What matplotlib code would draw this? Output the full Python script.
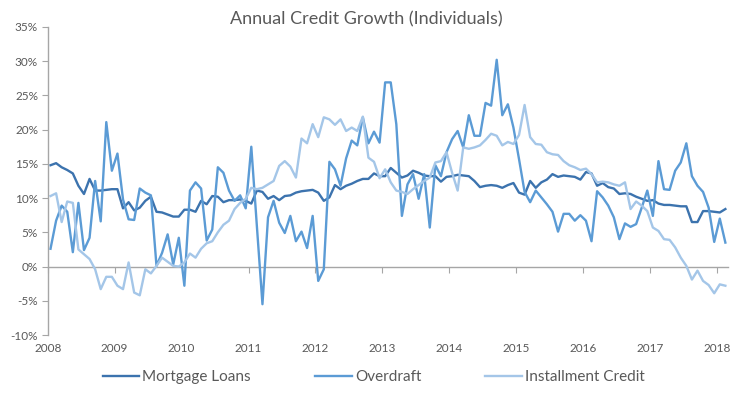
import numpy as np
import matplotlib
matplotlib.use("Agg")
import matplotlib.pyplot as plt
from matplotlib.ticker import FuncFormatter

# ── Data: monthly annual growth (%), Jan 2008 – Feb 2018 ─────
years = list(range(2008, 2019))

mortgage = [
    14.8, 15.1, 14.5, 14.1, 13.6, 11.8, 10.6, 12.8, 11.1, 11.1,
    11.2, 11.3, 11.3, 8.5, 9.4, 8.2, 8.6, 9.6, 10.2, 8.0,
    7.9, 7.6, 7.3, 7.3, 8.3, 8.3, 8.0, 9.6, 9.1, 10.3,
    10.2, 9.4, 9.7, 9.7, 9.8, 9.6, 9.2, 11.1, 10.9, 9.9,
    10.3, 9.7, 10.3, 10.4, 10.8, 11.0, 11.1, 11.2, 10.8, 9.6,
    10.1, 11.9, 11.3, 11.8, 12.1, 12.5, 12.8, 12.8, 13.6, 13.2,
    13.2, 14.4, 13.7, 13.0, 13.3, 14.0, 13.7, 13.3, 13.2, 13.2,
    12.4, 13.1, 13.2, 13.4, 13.3, 13.2, 12.5, 11.6, 11.8, 11.9,
    11.8, 11.5, 11.9, 12.2, 10.8, 10.5, 12.5, 11.5, 12.3, 12.7,
    13.5, 13.1, 13.3, 13.2, 13.1, 12.7, 13.8, 13.6, 11.8, 12.2,
    11.6, 11.4, 10.6, 10.7, 10.6, 10.2, 9.9, 9.6, 9.7, 9.2,
    9.0, 9.0, 8.9, 8.8, 8.8, 6.5, 6.5, 8.1, 8.1, 8.0,
    7.9, 8.4,
]

overdraft = [
    2.6, 6.7, 8.9, 8.0, 2.1, 9.3, 2.4, 4.2, 12.5, 6.6,
    21.1, 14.0, 16.5, 9.8, 6.9, 6.8, 11.4, 10.8, 10.4, 0.1,
    2.0, 4.7, 0.3, 4.2, -2.8, 11.1, 12.3, 11.4, 3.8, 5.4,
    14.5, 13.7, 11.1, 9.6, 10.4, 8.5, 17.5, 5.9, -5.5, 7.2,
    9.6, 6.4, 4.9, 7.4, 3.7, 5.1, 2.7, 7.4, -2.1, -0.4,
    15.3, 14.2, 11.8, 15.8, 18.4, 17.7, 21.8, 18.0, 19.7, 18.1,
    26.9, 26.9, 20.8, 7.4, 12.0, 13.5, 9.9, 13.5, 5.7, 14.8,
    13.2, 16.7, 18.6, 19.8, 17.4, 22.1, 19.1, 19.1, 23.9, 23.5,
    30.2, 22.1, 23.7, 20.3, 15.7, 10.9, 9.4, 11.1, 10.1, 9.1,
    8.0, 5.1, 7.7, 7.7, 6.7, 7.5, 6.7, 3.7, 11.0, 10.1,
    8.9, 7.2, 4.0, 6.3, 5.8, 6.2, 8.6, 11.1, 7.4, 15.4,
    11.3, 11.2, 14.0, 15.2, 18.0, 13.2, 11.8, 10.9, 8.6, 3.6,
    7.0, 3.5,
]

installment = [
    10.3, 10.7, 6.5, 9.5, 9.3, 2.5, 1.8, 1.1, -0.4, -3.3,
    -1.5, -1.5, -2.8, -3.3, 0.6, -3.8, -4.2, -0.4, -1.0, 0.1,
    1.3, 0.7, 0.1, 0.0, 0.6, 1.9, 1.3, 2.6, 3.4, 3.7,
    5.0, 6.1, 6.7, 8.4, 9.3, 9.9, 11.5, 11.3, 11.5, 12.0,
    12.5, 14.7, 15.4, 14.6, 13.0, 18.7, 18.0, 20.8, 18.9, 21.8,
    21.5, 20.7, 21.5, 19.8, 20.3, 19.8, 21.9, 15.9, 15.3, 12.9,
    14.2, 12.3, 11.1, 10.9, 10.6, 11.3, 11.9, 12.5, 13.0, 15.2,
    15.4, 16.7, 13.7, 11.1, 17.4, 17.2, 17.4, 17.7, 18.5, 19.4,
    19.1, 17.7, 18.2, 17.9, 19.2, 23.6, 18.9, 17.9, 17.8, 16.7,
    16.4, 16.3, 15.4, 14.8, 14.5, 14.1, 14.3, 13.5, 12.3, 12.4,
    12.3, 12.0, 11.8, 12.3, 8.4, 9.5, 8.9, 8.1, 5.7, 5.2,
    4.0, 3.9, 2.8, 1.3, 0.1, -1.9, -0.6, -2.1, -2.7, -3.9,
    -2.6, -2.8,
]

series = [
    ("Mortgage Loans", mortgage, "#3C73AE"),
    ("Overdraft", overdraft, "#5B9BD5"),
    ("Installment Credit", installment, "#A4C6E8"),
]

TEXT = "#595959"
AXIS = "#A6A6A6"
plt.rcParams["font.family"] = ["Lato", "DejaVu Sans"]

# ── Plot ──────────────────────────────────────────────────────
n = len(mortgage)
x = np.arange(n) + 0.5          # category centres, one per month

fig = plt.figure(figsize=(7.4, 3.96), dpi=100)
ax = fig.add_axes([0.0645, 0.154, 0.9195, 0.778])

for name, vals, col in series:
    ax.plot(x, vals, color=col, lw=1.7, label=name, solid_joinstyle="round")

ax.set_xlim(0, n)
ax.set_ylim(-10, 35)
ax.set_yticks(np.arange(-10, 36, 5))
ax.yaxis.set_major_formatter(FuncFormatter(lambda v, p: f"{v:.0f}%"))
ax.tick_params(axis="y", direction="out", length=4, color=AXIS,
               labelcolor=TEXT, labelsize=8.5, pad=3)

# year labels at the bottom of the plot area
ax.set_xticks([12 * k for k in range(len(years))])
ax.set_xticklabels([str(y) for y in years])
ax.tick_params(axis="x", length=0, labelcolor=TEXT, labelsize=8.5, pad=6)

for s in ["top", "right", "bottom"]:
    ax.spines[s].set_visible(False)
ax.spines["left"].set_color(AXIS)
ax.spines["left"].set_linewidth(1.0)

# horizontal axis line crossing at 0% with year tick marks
sec = ax.secondary_xaxis(location=10 / 45)
sec.set_xticks([12 * k for k in range(len(years))])
sec.tick_params(axis="x", direction="out", length=4, color=AXIS, labelbottom=False)
sec.spines["bottom"].set_color(AXIS)
sec.spines["bottom"].set_linewidth(1.0)

fig.suptitle("Annual Credit Growth (Individuals)", x=0.495, y=0.972,
             fontsize=13, color=TEXT)

fig.legend(loc="center", bbox_to_anchor=(0.505, 0.048), ncol=3, frameon=False,
           fontsize=11, labelcolor=TEXT, handlelength=2.4, handletextpad=0.2,
           columnspacing=4.2)

plt.savefig("out.png", dpi=100)
plt.close()
